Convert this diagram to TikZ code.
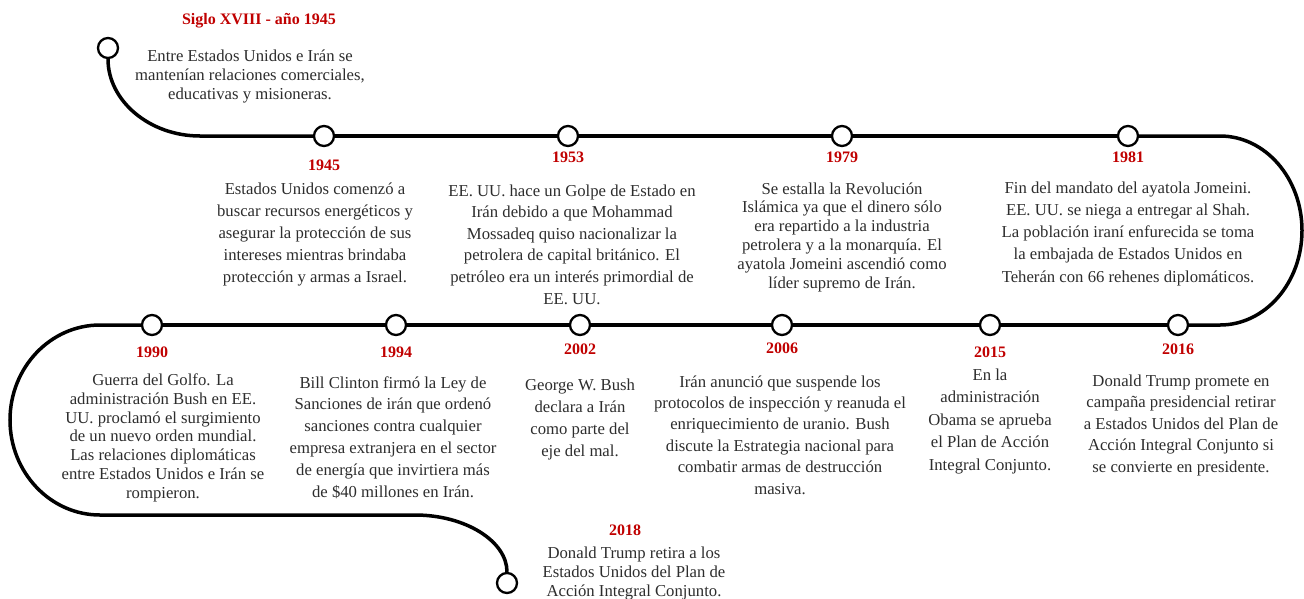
\documentclass[tikz,border=0pt]{standalone}
\usepackage{fontspec}
\setmainfont{Liberation Serif}
\usetikzlibrary{backgrounds}
\definecolor{yearred}{RGB}{192,0,0}
\definecolor{bodytxt}{RGB}{45,45,45}
\tikzset{
  tline/.style={line width=3.5pt, black},
  tdot/.style={circle, draw=black, line width=2.3pt, fill=white, minimum size=20pt, inner sep=0pt},
  yr/.style={text=yearred, font=\fontsize{16}{19}\selectfont\bfseries, anchor=base, inner sep=0pt},
  evt/.style={text=bodytxt, align=center, anchor=base, inner sep=0pt, font=\fontsize{16.7}{#1}\selectfont},
}
\begin{document}
\begin{tikzpicture}[x=1pt,y=-1pt]
\useasboundingbox (0,0) rectangle (1304,598);
% dots
\node[tdot] (s0) at (108,48) {};
\node[tdot] (c1945) at (324,136) {};
\node[tdot] (c1953) at (568,136) {};
\node[tdot] (c1979) at (842,136) {};
\node[tdot] (c1981) at (1128,136) {};
\node[tdot] (c1990) at (152,325) {};
\node[tdot] (c1994) at (396,325) {};
\node[tdot] (c2002) at (580,325) {};
\node[tdot] (c2006) at (782,325) {};
\node[tdot] (c2015) at (990,325) {};
\node[tdot] (c2016) at (1178,325) {};
\node[tdot] (e0) at (507,583) {};
% loop coordinates
\coordinate (a1) at (200,136);
\coordinate (r1) at (1220,136);
\coordinate (r2) at (1302,230.5);
\coordinate (r3) at (1220,325);
\coordinate (l1) at (100,325);
\coordinate (l2) at (10,420);
\coordinate (l3) at (100,515);
\coordinate (b1) at (415,515);
% timeline
\begin{scope}[on background layer]
\draw[tline] (s0.south) .. controls (108,100.6) and (149.2,136) .. (a1) -- (c1945.west);
\draw[tline] (c1945) -- (c1953);
\draw[tline] (c1953) -- (c1979);
\draw[tline] (c1979) -- (c1981);
\draw[tline] (c1981.east) -- (r1) .. controls (1265.3,136) and (1302,178.3) .. (r2)
   .. controls (1302,282.7) and (1265.3,325) .. (r3) -- (c2016.east);
\draw[tline] (c2016) -- (c2015);
\draw[tline] (c2015) -- (c2006);
\draw[tline] (c2006) -- (c2002);
\draw[tline] (c2002) -- (c1994);
\draw[tline] (c1994) -- (c1990);
\draw[tline] (c1990.west) -- (l1) .. controls (50.3,325) and (10,367.6) .. (l2)
   .. controls (10,472.4) and (50.3,515) .. (l3) -- (b1)
   .. controls (465.8,515) and (507,541.4) .. (e0.north);
\end{scope}
% year labels
\node[yr] (y0) at (259,24.5) {Siglo XVIII - año 1945};
\node[yr] (y1945) at (324,170.5) {1945};
\node[yr] (y1953) at (568,162.5) {1953};
\node[yr] (y1979) at (842,162.5) {1979};
\node[yr] (y1981) at (1128,162.5) {1981};
\node[yr] (y1990) at (152,357.5) {1990};
\node[yr] (y1994) at (396,357.5) {1994};
\node[yr] (y2002) at (580,354.5) {2002};
\node[yr] (y2006) at (782,353.5) {2006};
\node[yr] (y2015) at (990,357.5) {2015};
\node[yr] (y2016) at (1178,354.5) {2016};
\node[yr] (y2018) at (625,535.5) {2018};
% texts (anchor = baseline of the last line)
\node[evt=19] (t0) at (250,99) {Entre Estados Unidos e Irán se\\mantenían relaciones comerciales,\\educativas y misioneras.};
\node[evt=22] (t1945) at (315,282) {Estados Unidos comenzó a\\buscar recursos energéticos y\\asegurar la protección de sus\\intereses mientras brindaba\\protección y armas a Israel.};
\node[evt=21.6] (t1953) at (572,304) {EE. UU. hace un Golpe de Estado en\\Irán debido a que Mohammad\\Mossadeq quiso nacionalizar la\\petrolera de capital británico. El\\petróleo era un interés primordial de\\EE. UU.};
\node[evt=18.8] (t1979) at (842,288) {Se estalla la Revolución\\Islámica ya que el dinero sólo\\era repartido a la industria\\petrolera y a la monarquía. El\\ayatola Jomeini ascendió como\\líder supremo de Irán.};
\node[evt=22.2] (t1981) at (1128,282) {Fin del mandato del ayatola Jomeini.\\EE. UU. se niega a entregar al Shah.\\La población iraní enfurecida se toma\\la embajada de Estados Unidos en\\Teherán con 66 rehenes diplomáticos.};
\node[evt=18.7] (t1990) at (163,498) {Guerra del Golfo. La\\administración Bush en EE.\\UU. proclamó el surgimiento\\de un nuevo orden mundial.\\Las relaciones diplomáticas\\entre Estados Unidos e Irán se\\rompieron.};
\node[evt=21.8] (t1994) at (393,497) {Bill Clinton firmó la Ley de\\Sanciones de irán que ordenó\\sanciones contra cualquier\\empresa extranjera en el sector\\de energía que invirtiera más\\de \$40 millones en Irán.};
\node[evt=22] (t2002) at (580,456) {George W. Bush\\declara a Irán\\como parte del\\eje del mal.};
\node[evt=21.4] (t2006) at (780,494) {Irán anunció que suspende los\\protocolos de inspección y reanuda el\\enriquecimiento de uranio. Bush\\discute la Estrategia nacional para\\combatir armas de destrucción\\masiva.};
\node[evt=22.5] (t2015) at (990,470) {En la\\administración\\Obama se aprueba\\el Plan de Acción\\Integral Conjunto.};
\node[evt=21.5] (t2016) at (1181,472) {Donald Trump promete en\\campaña presidencial retirar\\a Estados Unidos del Plan de\\Acción Integral Conjunto si\\se convierte en presidente.};
\node[evt=19] (t2018) at (634,596) {Donald Trump retira a los\\Estados Unidos del Plan de\\Acción Integral Conjunto.};
\end{tikzpicture}
\end{document}
